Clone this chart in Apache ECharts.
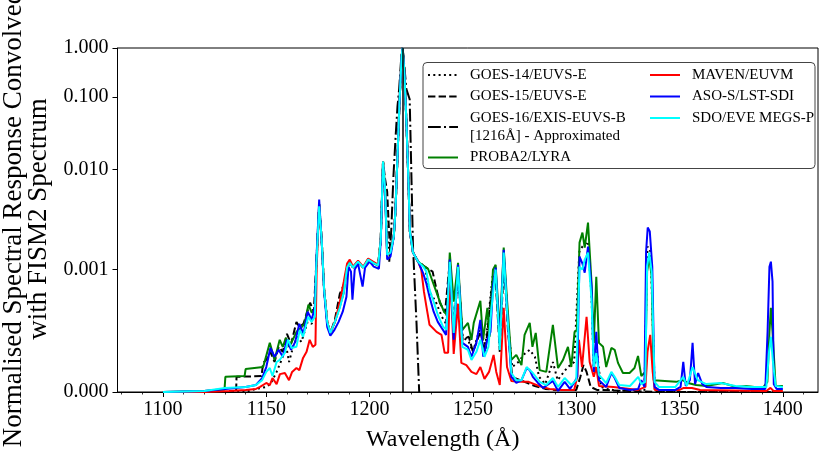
<!DOCTYPE html>
<html>
<head>
<meta charset="utf-8">
<script src="https://cdn.jsdelivr.net/npm/echarts@6/dist/echarts.min.js"></script>
<style>html,body{margin:0;padding:0;background:#fff;}#c{width:830px;height:463px;}</style>
</head>
<body>
<div id="c"></div>
<script>
// ---- tick labels ----
const xTickValues = [1100, 1150, 1200, 1250, 1300, 1350, 1400];
const xMinorTickValues = [1080,1090,1100,1110,1120,1130,1140,1150,1160,1170,1180,1190,1200,1210,1220,1230,1240,1250,1260,1270,1280,1290,1300,1310,1320,1330,1340,1350,1360,1370,1380,1390,1400,1410];
const yTickValues = [1e-4, 1e-3, 1e-2, 1e-1, 1];
const yTickLabels = ['0.000', '0.001', '0.010', '0.100', '1.000'];

// ---- shared Lyman-alpha core profile (1189-1224 Å) ----
const lyaCore = [[1189.1,1.05e-3],[1190.4,1.17e-3],[1192,1.05e-3],[1194.4,1.20e-3],[1196.9,1.05e-3],[1199.3,1.26e-3],[1201.7,1.17e-3],[1204.1,1.10e-3],[1205.4,2.00e-3],[1206.5,1.29e-2],[1207.5,6.30e-3],[1208.5,1.41e-3],[1210.1,1.48e-3],[1211.7,2.14e-3],[1212.5,3.80e-3],[1213.5,1.52e-2],[1214.5,8.77e-2],[1215.5,0.687],[1216,1.0],[1216.8,0.339],[1217.8,4.64e-2],[1218.8,7.59e-3],[1219.5,2.40e-3],[1221,1.48e-3],[1223.5,1.20e-3]];

// ---- series values [wavelength, normalised response] ----
const goes14 = [[1100,1.00e-4],[1140,1.00e-4],[1145,1.06e-4],[1150,1.10e-4],[1152,1.16e-4],[1155,1.46e-4],[1157,1.76e-4],[1159.7,2.34e-4],[1161,1.76e-4],[1163,2.34e-4],[1165,2.83e-4],[1167,2.57e-4],[1170,3.74e-4],[1172,3.61e-4],[1173.5,4.53e-4],[1174.2,1.07e-3],[1175.6,4.27e-3],[1176.8,2.00e-3],[1178,6.86e-4],[1179.5,3.74e-4],[1181,3.04e-4],[1183.2,3.74e-4],[1185.6,5.20e-4],[1187.5,6.80e-4],
 [1189.1,1.05e-3],[1190.4,1.17e-3],[1192,1.05e-3],[1194.4,1.20e-3],[1196.9,1.05e-3],[1199.3,1.26e-3],[1201.7,1.17e-3],[1204.1,1.10e-3],[1205.4,2.00e-3],[1206.5,1.29e-2],[1207.5,6.30e-3],[1208.5,2.00e-3],[1209.5,1.60e-3],[1210.1,1.50e-3],[1211.7,2.14e-3],[1212.5,3.80e-3],[1213.5,1.52e-2],[1214.5,8.77e-2],[1215.5,0.687],[1216,1.0],[1216.8,0.339],[1217.8,4.64e-2],[1218.8,7.59e-3],[1219.5,2.40e-3],[1221,1.48e-3],[1223.5,1.20e-3],
 [1226.7,1.07e-3],[1229,6.61e-4],[1232,5.47e-4],[1235,4.12e-4],[1237,3.61e-4],[1238.8,1.15e-3],[1240.7,3.10e-4],[1242.8,9.63e-4],[1245,2.83e-4],[1248,2.57e-4],[1250,2.13e-4],[1253.6,3.41e-4],[1256,2.34e-4],[1259.5,8.76e-4],[1261,9.27e-4],[1263,2.34e-4],[1265,1.35e-3],[1267,3.61e-4],[1269,1.60e-4],[1272,1.76e-4],[1275,2.05e-4],[1277.5,2.21e-4],[1280,1.94e-4],[1282,1.33e-4],[1285,1.16e-4],[1288.7,1.76e-4],[1291,1.25e-4],[1294,1.46e-4],[1296,1.60e-4],[1299,1.76e-4],[1301.5,1.51e-3],[1303,1.70e-3],[1305.7,1.91e-3],[1307.4,6.01e-4],[1308.5,1.46e-4],[1310,2.13e-4],[1312,1.10e-4],[1315,1.06e-4],[1320,1.02e-4],[1333,1.04e-4],[1334.5,1.70e-3],[1336,1.51e-3],[1338,1.04e-4],[1345,1.00e-4],[1400,1.00e-4]];

const goes15 = [[1100,1.00e-4],[1135.4,1.00e-4],[1135.6,1.33e-4],[1147.7,1.35e-4],[1148.5,1.73e-4],[1150,1.83e-4],[1152,2.13e-4],[1154,1.76e-4],[1156,2.34e-4],[1158,2.13e-4],[1160,2.99e-4],[1162,2.47e-4],[1164.6,3.74e-4],[1166,3.41e-4],[1168,3.61e-4],[1171.2,5.37e-4],[1173,4.53e-4],[1174.2,1.15e-3],[1175.6,4.50e-3],[1176.8,2.00e-3],[1178,6.86e-4],[1179.5,3.74e-4],[1181,3.04e-4],[1183.2,3.90e-4],[1185.6,6.36e-4],[1187.5,7.50e-4],
 [1189.1,1.05e-3],[1190.4,1.17e-3],[1192,1.05e-3],[1194.4,1.20e-3],[1196.9,1.05e-3],[1199.3,1.26e-3],[1201.7,1.17e-3],[1204.1,1.10e-3],[1205.4,2.00e-3],[1206.5,1.29e-2],[1207.5,8.00e-3],[1208.5,6.00e-3],[1209.5,2.20e-3],[1210.1,1.50e-3],[1211.7,2.14e-3],[1212.5,3.80e-3],[1213.5,1.52e-2],[1214.5,8.77e-2],[1215.5,0.687],[1216,1.0],[1216.8,0.339],[1217.8,4.64e-2],[1218.8,7.59e-3],[1219.5,2.40e-3],[1221,1.48e-3],[1223.5,1.20e-3],
 [1226.7,1.07e-3],[1229,1.00e-3],[1230.5,9.63e-4],[1232.4,6.86e-4],[1234,5.37e-4],[1236.5,4.45e-4],[1238.8,1.20e-3],[1240.7,2.99e-4],[1242.8,1.00e-3],[1245,2.67e-4],[1248,2.83e-4],[1250,2.13e-4],[1253.6,3.10e-4],[1256,2.13e-4],[1259.5,7.97e-4],[1261,8.28e-4],[1263,2.13e-4],[1265,1.20e-3],[1267,3.10e-4],[1269,1.33e-4],[1275,1.21e-4],[1280,1.12e-4],[1285,1.06e-4],[1290,1.04e-4],[1300,1.04e-4],[1302,1.33e-4],[1303.5,1.66e-4],[1305,1.46e-4],[1307,1.10e-4],[1310,1.04e-4],[1340,1.00e-4],[1400,1.00e-4]];

const goes16 = [[1209.5,1.20e-3],[1210.5,2.50e-3],[1211.5,8.30e-3],[1212.6,2.87e-2],[1213.5,7.45e-2],[1214.3,0.146],[1215.2,0.543],[1216,1.0],[1216.8,0.43],[1217.8,0.146],[1219.4,9.36e-2],[1220.2,9.33e-3],[1221,1.70e-3],[1222.7,3.67e-4],[1224,1.00e-4]];

const proba2 = [[1100,1.00e-4],[1120,1.02e-4],[1129.8,1.05e-4],[1130.2,1.33e-4],[1139.5,1.35e-4],[1140,1.54e-4],[1148.5,1.60e-4],[1151.7,2.52e-4],[1152.5,2.47e-4],[1154,1.83e-4],[1156.5,2.67e-4],[1158,2.34e-4],[1159.5,2.77e-4],[1161,2.34e-4],[1162.8,2.67e-4],[1164.6,3.10e-4],[1166.5,3.30e-4],[1168.5,3.60e-4],[1170.4,5.17e-4],[1172,4.45e-4],[1173.5,4.60e-4],[1174.2,1.10e-3],[1175.6,4.50e-3],[1176.8,2.00e-3],[1178,6.86e-4],[1179.5,3.74e-4],[1181,3.04e-4],[1183.2,3.74e-4],[1185.6,5.00e-4],[1187.5,6.50e-4]]
 .concat(lyaCore).concat([[1226.7,1.07e-3],[1228.3,1.02e-3],[1230.7,7.82e-4],[1234,5.47e-4],[1236,4.53e-4],[1237.5,4.28e-4],[1238.8,1.48e-3],[1240.7,5.47e-4],[1242.8,1.17e-3],[1244.9,3.22e-4],[1247.6,3.67e-4],[1249.3,2.67e-4],[1250.4,3.67e-4],[1253.6,5.57e-4],[1254.9,2.67e-4],[1257,4.88e-4],[1258.1,2.83e-4],[1259.7,1.00e-3],[1261,1.12e-3],[1263,3.04e-4],[1264.9,1.66e-3],[1266.5,5.67e-4],[1268.6,1.83e-4],[1271,2.01e-4],[1273.5,1.66e-4],[1275,2.93e-4],[1277.5,3.67e-4],[1278.8,2.34e-4],[1280.4,3.04e-4],[1282.3,1.51e-4],[1285.5,1.46e-4],[1288.7,3.54e-4],[1291.2,1.57e-4],[1293.6,1.83e-4],[1296,2.34e-4],[1297.6,1.60e-4],[1299.2,3.10e-4],[1300.3,3.22e-4],[1301.6,1.86e-3],[1303,2.34e-3],[1304.1,1.66e-3],[1305.7,2.95e-3],[1307.4,7.82e-4],[1308.5,2.52e-4],[1309.7,8.76e-4],[1311,2.52e-4],[1313,2.34e-4],[1314.5,1.60e-4],[1317,2.29e-4],[1318.6,2.21e-4],[1320.2,1.73e-4],[1322.6,1.43e-4],[1325.8,1.43e-4],[1328.2,1.57e-4],[1329.9,1.97e-4],[1331.5,1.35e-4],[1333.4,1.46e-4],[1334.3,9.63e-4],[1335.3,1.35e-3],[1336.5,8.76e-4],[1337.5,1.25e-4],[1348.3,1.21e-4],[1351.5,1.25e-4],[1354,1.185e-4],[1358,1.14e-4],[1362.9,1.12e-4],[1370.9,1.185e-4],[1377.4,1.10e-4],[1382.2,1.12e-4],[1390.3,1.08e-4],[1392.5,1.21e-4],[1393.5,3.10e-4],[1394.2,4.88e-4],[1395,3.10e-4],[1396.5,1.12e-4],[1400,1.12e-4]]);

const maven = [[1100,1.00e-4],[1120,1.00e-4],[1132,1.02e-4],[1140,1.04e-4],[1145,1.06e-4],[1147,1.10e-4],[1150,1.185e-4],[1151.7,1.14e-4],[1153,1.30e-4],[1155,1.16e-4],[1156.6,1.40e-4],[1159,1.43e-4],[1161,1.25e-4],[1162.5,1.46e-4],[1164.6,1.57e-4],[1166,1.51e-4],[1167.8,1.90e-4],[1169.5,2.13e-4],[1171,2.67e-4],[1172.5,2.34e-4],[1173.8,2.43e-4],[1174.4,1.07e-3],[1175.6,4.27e-3],[1176.8,2.00e-3],[1178,6.86e-4],[1179.5,3.74e-4],[1181,3.04e-4],[1183.2,3.74e-4],[1185.6,5.47e-4],[1187.5,7.97e-4],
 [1189.1,1.15e-3],[1190.4,1.26e-3],[1192,1.07e-3],[1194.4,1.23e-3],[1196.9,1.07e-3],[1199.3,1.29e-3],[1201.7,1.20e-3],[1204.1,1.12e-3],[1205.4,2.00e-3],[1206.5,1.29e-2],[1207.5,6.30e-3],[1208.5,1.41e-3],[1210.1,1.48e-3],[1211.7,2.14e-3],[1212.5,3.80e-3],[1213.5,1.52e-2],[1214.5,8.77e-2],[1215.5,0.687],[1216,1.0],[1216.8,0.339],[1217.8,4.64e-2],[1218.8,7.59e-3],[1219.5,2.40e-3],[1221,1.48e-3],[1223.5,1.20e-3],
 [1225,1.00e-3],[1226.3,6.61e-4],[1227.5,4.98e-4],[1229,3.54e-4],[1232.4,3.10e-4],[1234.8,2.93e-4],[1236.3,2.09e-4],[1238,2.09e-4],[1239,1.05e-3],[1240.7,2.05e-4],[1242.8,5.27e-4],[1244.4,1.73e-4],[1246.8,1.66e-4],[1249.3,1.46e-4],[1251.7,1.40e-4],[1253.6,1.60e-4],[1255.6,1.28e-4],[1257.8,1.46e-4],[1260,2.01e-4],[1261.3,1.46e-4],[1263,1.14e-4],[1264.9,4.88e-4],[1266.5,1.60e-4],[1268.6,1.23e-4],[1272,1.21e-4],[1277,1.21e-4],[1282,1.12e-4],[1287,1.06e-4],[1293,1.04e-4],[1299,1.04e-4],[1300.5,1.33e-4],[1301.3,2.67e-4],[1302.8,1.60e-4],[1305,4.12e-4],[1306.5,1.76e-4],[1308.5,1.33e-4],[1309.7,1.60e-4],[1311,1.12e-4],[1318,1.10e-4],[1330,1.04e-4],[1333.5,1.10e-4],[1334.5,2.13e-4],[1335.8,2.93e-4],[1337,1.46e-4],[1338,1.04e-4],[1350,1.04e-4],[1352,1.08e-4],[1356,1.08e-4],[1360,1.04e-4],[1392,1.02e-4],[1394,1.08e-4],[1395.5,1.02e-4],[1400,1.02e-4]];

const asoS = [[1100,1.00e-4],[1120,1.02e-4],[1130,1.06e-4],[1140,1.10e-4],[1145,1.14e-4],[1148,1.30e-4],[1150,1.60e-4],[1152,2.29e-4],[1154,1.94e-4],[1156,2.21e-4],[1158,1.94e-4],[1160,2.67e-4],[1162,2.21e-4],[1164,2.57e-4],[1166,3.61e-4],[1168,2.99e-4],[1170,4.53e-4],[1172,3.89e-4],[1173.5,4.98e-4],[1174.2,1.20e-3],[1175.6,5.00e-3],[1176.8,1.91e-3],[1178,6.61e-4],[1179.5,3.41e-4],[1181,2.88e-4],[1183,3.22e-4],[1185,3.74e-4],[1187,4.53e-4],[1188.8,6.01e-4],[1189.8,1.07e-3],[1191,9.63e-4],[1191.7,5.67e-4],[1192.8,1.00e-3],[1194.4,1.15e-3],[1196.6,7.26e-4],[1197.8,1.05e-3],[1200,1.20e-3],[1202,1.07e-3],[1204.5,1.02e-3],[1205.4,1.91e-3],[1206.5,1.21e-2],[1207.5,6.03e-3],[1208.5,1.26e-3],[1210.1,1.35e-3],[1211.7,2.14e-3],[1212.5,3.80e-3],[1213.5,1.52e-2],[1214.5,8.77e-2],[1215.5,0.687],[1216,1.0],[1216.8,0.339],[1217.8,4.64e-2],[1218.8,7.59e-3],[1219.5,2.40e-3],[1221,1.48e-3],[1223.5,1.20e-3],
 [1226,9.27e-4],[1227.5,7.68e-4],[1229,6.01e-4],[1231,4.53e-4],[1233,3.74e-4],[1235.5,3.22e-4],[1237,2.93e-4],[1238.8,1.26e-3],[1240.7,2.67e-4],[1242.8,1.12e-3],[1244.9,2.52e-4],[1247.6,2.34e-4],[1249.3,1.94e-4],[1251.7,2.52e-4],[1253.6,3.89e-4],[1255,1.94e-4],[1257,2.67e-4],[1258.5,3.10e-4],[1259.7,7.26e-4],[1261,1.05e-3],[1263,2.52e-4],[1264.9,1.58e-3],[1266.5,4.70e-4],[1268.6,1.33e-4],[1271,1.185e-4],[1273.5,1.25e-4],[1276,1.57e-4],[1277.5,1.51e-4],[1279,1.33e-4],[1281.5,1.185e-4],[1284,1.08e-4],[1288.7,1.23e-4],[1291.2,1.02e-4],[1294.4,1.21e-4],[1297,1.06e-4],[1299.2,1.21e-4],[1300.5,1.33e-4],[1301.6,1.35e-3],[1303,1.15e-3],[1304.1,9.45e-4],[1305.7,1.70e-3],[1307.4,7.26e-4],[1308.5,1.46e-4],[1309.7,3.10e-4],[1311,1.25e-4],[1314.5,1.10e-4],[1317,1.43e-4],[1318.6,1.30e-4],[1320.8,1.08e-4],[1326,1.04e-4],[1330,1.06e-4],[1331.5,1.25e-4],[1333,1.10e-4],[1333.8,1.51e-3],[1334.6,2.63e-3],[1335.6,2.40e-3],[1336.8,1.07e-3],[1337.9,1.10e-4],[1340,1.04e-4],[1348,1.04e-4],[1350.5,1.10e-4],[1351.8,1.76e-4],[1353,1.12e-4],[1355,1.25e-4],[1356.3,2.52e-4],[1357.5,1.16e-4],[1359,1.43e-4],[1361,1.16e-4],[1363,1.10e-4],[1370,1.08e-4],[1377,1.08e-4],[1385,1.06e-4],[1391.5,1.06e-4],[1392.6,3.10e-4],[1393.5,1.07e-3],[1394.2,1.20e-3],[1395,7.97e-4],[1395.6,1.16e-4],[1397,1.06e-4],[1400,1.06e-4]];

const sdoEve = [[1100,1.00e-4],[1110,1.01e-4],[1120,1.02e-4],[1130,1.08e-4],[1140,1.10e-4],[1145,1.14e-4],[1148,1.25e-4],[1150,1.46e-4],[1151.7,1.57e-4],[1153,1.35e-4],[1155,1.76e-4],[1156.5,1.83e-4],[1159,2.09e-4],[1160.6,2.67e-4],[1162.2,2.29e-4],[1164.6,2.34e-4],[1166.2,3.22e-4],[1167.8,2.83e-4],[1170.3,4.12e-4],[1171.9,3.74e-4],[1173.5,4.12e-4],[1174.2,1.07e-3],[1175.6,4.27e-3],[1176.8,2.00e-3],[1178,6.86e-4],[1179.5,3.74e-4],[1181,3.04e-4],[1183.2,3.74e-4],[1185.6,4.88e-4],[1187.5,6.50e-4]]
 .concat(lyaCore).concat([[1226,1.07e-3],[1227.5,9.63e-4],[1229,6.86e-4],[1231,5.47e-4],[1233,4.28e-4],[1235.6,3.41e-4],[1237.2,3.22e-4],[1238.8,1.20e-3],[1240.7,3.04e-4],[1242.8,1.07e-3],[1244.9,2.34e-4],[1247.6,2.21e-4],[1249.3,1.83e-4],[1251.7,2.13e-4],[1253.6,2.67e-4],[1255.6,1.94e-4],[1257.5,2.34e-4],[1258.9,4.70e-4],[1261,1.00e-3],[1263,2.21e-4],[1264.9,1.48e-3],[1266.5,4.70e-4],[1268.6,1.43e-4],[1271,1.25e-4],[1273.5,1.25e-4],[1276,1.60e-4],[1277.5,1.51e-4],[1279,1.43e-4],[1282.3,1.21e-4],[1285.5,1.14e-4],[1288.7,1.30e-4],[1291.2,1.10e-4],[1294.4,1.30e-4],[1297.6,1.14e-4],[1300,1.25e-4],[1301.6,1.07e-3],[1303,1.00e-3],[1304.1,1.26e-3],[1305.7,1.48e-3],[1307.4,5.67e-4],[1308.5,1.60e-4],[1309.7,2.09e-4],[1311,1.38e-4],[1314.5,1.185e-4],[1317,1.46e-4],[1318.6,1.33e-4],[1320.8,1.14e-4],[1326,1.12e-4],[1330,1.33e-4],[1331.5,1.16e-4],[1333.4,1.21e-4],[1334.3,1.07e-3],[1335.3,1.48e-3],[1336.5,9.63e-4],[1337.9,1.21e-4],[1340,1.10e-4],[1348,1.10e-4],[1351.8,1.33e-4],[1353.5,1.12e-4],[1356.3,1.60e-4],[1358.8,1.25e-4],[1362.9,1.16e-4],[1370,1.185e-4],[1377,1.12e-4],[1385,1.10e-4],[1392,1.10e-4],[1393.3,2.13e-4],[1394.2,2.83e-4],[1395.2,1.76e-4],[1396.5,1.12e-4],[1400,1.10e-4]]);

// ---- y scale: log-like, decades of unequal height (as in reference) ----
const decadeFrac = [0, 122/343, 222/343, 294/343, 1];
function yScale(v) {
  if (v <= 1e-4) return 0;
  if (v >= 1) return 1;
  const u = Math.log10(v) + 4;
  const i = Math.min(3, Math.floor(u));
  const f = u - i;
  return decadeFrac[i] + f * (decadeFrac[i + 1] - decadeFrac[i]);
}
const yTickPos = yTickValues.map(yScale);
const tr = arr => arr.map(p => [p[0], yScale(p[1])]);

const FONT = 'Liberation Serif';
const chart = echarts.init(document.getElementById('c'), null, {renderer: 'canvas'});

const mk = (name, data, color, type, z) => ({
  name, type: 'line', data: tr(data), xAxisIndex: 0, yAxisIndex: 0,
  symbol: 'none', showSymbol: false, smooth: false, z,
  lineStyle: {color, width: 2, type, cap: 'butt'}, itemStyle: {color},
  emphasis: {disabled: true}, animation: false, clip: true
});

const s14 = mk('GOES-14/EUVS-E', goes14, '#000000', [2, 3.3], 2);
const s15 = mk('GOES-15/EUVS-E', goes15, '#000000', [7.4, 3.2], 2);
const s16 = mk('GOES-16/EXIS-EUVS-B\n[1216Å] - Approximated', goes16, '#000000', [12.8, 3.2, 2, 3.2], 2);
s16.markLine = {silent: true, symbol: ['none', 'none'], label: {show: false},
  lineStyle: {color: '#000', width: 1.5, type: 'solid'}, data: [{xAxis: 1216}], animation: false};
const sP = mk('PROBA2/LYRA', proba2, '#008000', 'solid', 2);
const sM = mk('MAVEN/EUVM', maven, '#ff0000', 'solid', 2);
const sA = mk('ASO-S/LST-SDI', asoS, '#0000ff', 'solid', 2);
const sS = mk('SDO/EVE MEGS-P', sdoEve, '#00ffff', 'solid', 2);

const legendText = {fontFamily: FONT, fontSize: 15, color: '#000', lineHeight: 18, padding: [0, 0, 0, 7]};
const legendBase = {orient: 'vertical', top: 66, padding: 0, itemWidth: 30, itemHeight: 14, itemGap: 3.5,
  textStyle: legendText, selectedMode: false, z: 10,
  itemStyle: {opacity: 0, borderWidth: 0}};

chart.setOption({
  animation: false,
  backgroundColor: '#ffffff',
  grid: {left: 117.5, right: 12, top: 48, bottom: 71, show: true, borderColor: '#000', borderWidth: 1,
    containLabel: false, outerBoundsMode: 'none'},
  xAxis: [{
    type: 'value', min: 1078, max: 1417, position: 'bottom',
    name: 'Wavelength (Å)', nameLocation: 'middle', nameGap: 36,
    nameTextStyle: {fontFamily: FONT, fontSize: 24, color: '#000', padding: [0, 50, 0, 0]},
    axisLine: {show: true, onZero: false, lineStyle: {color: '#000', width: 1}},
    axisTick: {show: true, inside: false, length: 5, customValues: xTickValues, lineStyle: {color: '#000', width: 1}},
    axisLabel: {show: true, margin: 8, customValues: xTickValues, fontFamily: FONT, fontSize: 20, color: '#000',
      formatter: v => String(Math.round(v))},
    splitLine: {show: false}
  }, {
    type: 'value', min: 1078, max: 1417, position: 'bottom', offset: 0,
    axisLine: {show: false, onZero: false},
    axisTick: {show: true, inside: false, length: 2.5, customValues: xMinorTickValues, lineStyle: {color: '#000', width: 0.8}},
    axisLabel: {show: false}, splitLine: {show: false}
  }],
  yAxis: [{
    type: 'value', min: 0, max: 1,
    name: 'Normalised Spectral Response Convolved\nwith FISM2 Spectrum',
    nameLocation: 'middle', nameGap: 62,
    nameTextStyle: {fontFamily: FONT, fontSize: 27, color: '#000', lineHeight: 25, align: 'center', padding: [0, 0, 0, 2]},
    axisLine: {show: true, onZero: false, lineStyle: {color: '#000', width: 1}},
    axisTick: {show: true, inside: false, length: 5, customValues: yTickPos, lineStyle: {color: '#000', width: 1}},
    axisLabel: {show: true, margin: 9, customValues: yTickPos, fontFamily: FONT, fontSize: 20, color: '#000',
      formatter: v => { let best = 0; yTickPos.forEach((p, i) => { if (Math.abs(p - v) < Math.abs(yTickPos[best] - v)) best = i; }); return yTickLabels[best]; }},
    splitLine: {show: false}
  }],
  legend: [
    Object.assign({}, legendBase, {left: 427, data: [s14.name, s15.name, s16.name, sP.name]}),
    Object.assign({}, legendBase, {left: 649, data: [sM.name, sA.name, sS.name]})
  ],
  graphic: [{
    type: 'rect', z: 5, silent: true,
    shape: {x: 423, y: 62.5, width: 392, height: 106, r: 4},
    style: {fill: 'rgba(255,255,255,0.85)', stroke: '#444', lineWidth: 1}
  }],
  series: [s14, s15, s16, sP, sM, sA, sS]
});
</script>
</body>
</html>
